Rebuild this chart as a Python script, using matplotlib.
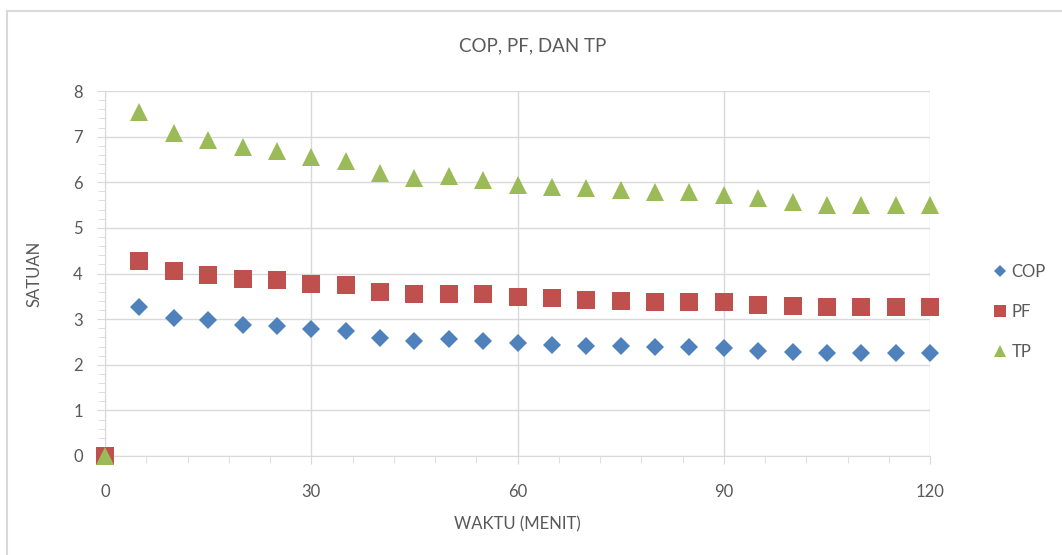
import matplotlib.pyplot as plt
from matplotlib.patches import Rectangle
from matplotlib.ticker import MultipleLocator

# data
waktu = [0, 5, 10, 15, 20, 25, 30, 35, 40, 45, 50, 55, 60,
         65, 70, 75, 80, 85, 90, 95, 100, 105, 110, 115, 120]
cop = [0, 3.26, 3.03, 2.98, 2.87, 2.84, 2.78, 2.73, 2.59, 2.53, 2.56, 2.53, 2.47,
       2.44, 2.42, 2.42, 2.39, 2.39, 2.37, 2.31, 2.28, 2.25, 2.25, 2.25, 2.25]
pf = [0, 4.27, 4.05, 3.97, 3.88, 3.85, 3.77, 3.74, 3.60, 3.55, 3.55, 3.55, 3.49,
      3.46, 3.43, 3.40, 3.38, 3.38, 3.38, 3.32, 3.29, 3.26, 3.26, 3.26, 3.26]
tp = [0, 7.53, 7.08, 6.93, 6.77, 6.68, 6.56, 6.46, 6.20, 6.09, 6.13, 6.06, 5.95,
      5.90, 5.87, 5.84, 5.79, 5.79, 5.73, 5.65, 5.57, 5.51, 5.51, 5.51, 5.51]

plt.rcParams['font.family'] = ['Lato', 'DejaVu Sans']

fig = plt.figure(figsize=(10.62, 5.55), dpi=100)
ax = fig.add_axes([105 / 1062, 1 - 456 / 555, 825 / 1062, 365 / 555])

grid_c = '#D9D9D9'
text_c = '#595959'

ax.plot(waktu, cop, 'D', color='#4F81BD', markersize=9.5, markeredgewidth=0,
        label='COP', clip_on=False, zorder=3)
ax.plot(waktu, pf, 's', color='#C0504D', markersize=13.5, markeredgewidth=0,
        label='PF', clip_on=False, zorder=3)
ax.plot(waktu, tp, '^', color='#9BBB59', markersize=13.5, markeredgewidth=0,
        label='TP', clip_on=False, zorder=3)

ax.set_xlim(0, 120)
ax.set_ylim(0, 8)
ax.xaxis.set_major_locator(MultipleLocator(30))
ax.xaxis.set_minor_locator(MultipleLocator(6))
ax.yaxis.set_major_locator(MultipleLocator(1))
ax.yaxis.set_minor_locator(MultipleLocator(0.2))
ax.grid(True, which='major', color=grid_c, linewidth=1)
ax.set_axisbelow(True)
for s in ax.spines.values():
    s.set_color(grid_c)
ax.spines['top'].set_visible(False)
ax.spines['right'].set_visible(False)
ax.tick_params(which='both', color=grid_c, labelcolor=text_c, labelsize=12)
ax.tick_params(which='major', length=6)
ax.tick_params(which='minor', length=5)
ax.tick_params(axis='y', which='both', pad=10)
ax.tick_params(axis='x', which='both', pad=14)

ax.set_xlabel('WAKTU (MENIT)', color=text_c, fontsize=12, labelpad=12)
ax.set_ylabel('SATUAN', color=text_c, fontsize=12, labelpad=22)
fig.text(533 / 1062, 1 - 46 / 555, 'COP, PF, DAN TP', ha='center', va='center',
         color=text_c, fontsize=13.5)

leg = ax.legend(loc='center left', bbox_to_anchor=(980 / 1062, 1 - 312 / 555),
                bbox_transform=fig.transFigure, frameon=False, fontsize=12,
                labelspacing=1.45, handlelength=0.6, handletextpad=0.4,
                markerscale=0.6)
for t in leg.get_texts():
    t.set_color(text_c)

# chart area border
fig.patches.append(Rectangle((7 / 1062, -0.1), 1.1, 1 - 11 / 555 + 0.1,
                             transform=fig.transFigure, fill=False,
                             edgecolor=grid_c, linewidth=1.5))

fig.savefig('out.png', dpi=100)
